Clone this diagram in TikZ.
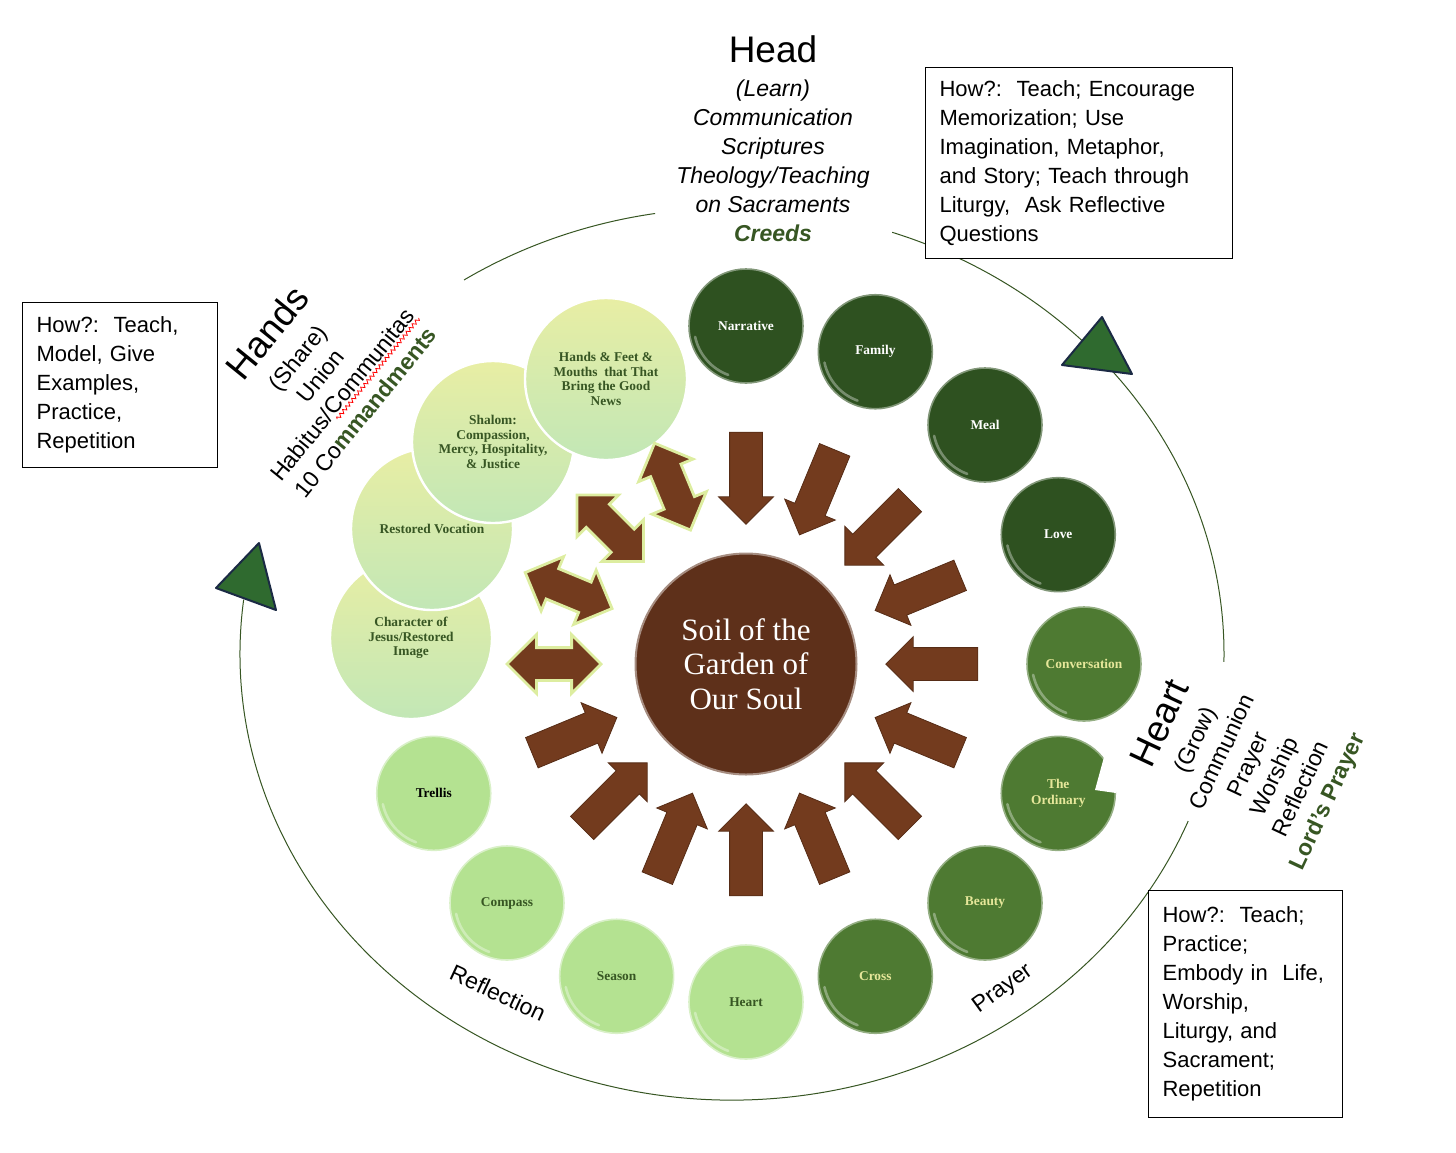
\documentclass[tikz,border=0pt]{standalone}
\usepackage{fontspec}
\setmainfont{Liberation Sans}
\newfontfamily\seedfont{Liberation Serif}
\usetikzlibrary{shapes.arrows,calc,decorations.pathmorphing}
\definecolor{darkleaf}{HTML}{2E5120}
\definecolor{midleaf}{HTML}{4E7A32}
\definecolor{paleleaf}{HTML}{B4E291}
\definecolor{leaftext}{HTML}{375623}
\definecolor{soilbrown}{HTML}{5E301A}
\definecolor{clay}{HTML}{733B1E}
\definecolor{glow}{HTML}{DDEDA0}
\definecolor{bloomtop}{HTML}{E8EEA4}
\definecolor{bloombot}{HTML}{C2E7B6}
\definecolor{waygreen}{HTML}{2F6A2F}
\definecolor{wayedge}{HTML}{1B2A44}
\definecolor{paleword}{HTML}{E6E79A}
\newcommand\spellwave[1]{\tikz[baseline=(w.base)]{\node[inner sep=0pt] (w) {#1};\draw[red,line width=.4pt,decorate,decoration={zigzag,amplitude=.9pt,segment length=2.4pt}] ([yshift=-1.6pt]w.base west) -- ([yshift=-1.6pt]w.base east);}}
\tikzstyle{seed}=[circle,minimum size=57pt,inner sep=0pt,align=center,line width=.8pt,font=\seedfont\bfseries\fontsize{6.7}{7.6}\selectfont]
\tikzstyle{gloss}=[path picture={\draw[white,opacity=.35,line width=1.3pt,line cap=round] (path picture bounding box.center) ++(192:26pt) arc[start angle=192,end angle=250,radius=26pt];}]
\tikzstyle{darkseed}=[seed,gloss,fill=darkleaf,draw=darkleaf!60!white,text=white]
\tikzstyle{midseed}=[seed,gloss,fill=midleaf,draw=midleaf!60!white,text=paleword]
\tikzstyle{paleseed}=[seed,gloss,fill=paleleaf,draw=paleleaf!50!white,text=leaftext]
\tikzstyle{bloom}=[seed,minimum size=81pt,top color=bloomtop,bottom color=bloombot,draw=white,line width=1.2pt,text=leaftext,font=\seedfont\bfseries\fontsize{6.7}{7.3}\selectfont]
\tikzstyle{inarrow}=[single arrow,fill=clay,draw=clay!75!black,line width=.4pt,minimum height=46pt,inner sep=0pt,inner ysep=8pt,single arrow head extend=5.5pt]
\tikzstyle{twoway}=[double arrow,fill=clay,draw=glow,line width=1.4pt,minimum height=47pt,inner sep=0pt,inner ysep=7.5pt,double arrow head extend=6.5pt]
\tikzstyle{howbox}=[draw,fill=white,line width=.6pt,anchor=north west,align=left,inner xsep=7pt,font=\fontsize{11}{14.5}\selectfont]
\tikzstyle{ringline}=[draw=leaftext,line width=.5pt]
\tikzstyle{waymark}=[fill=waygreen,draw=wayedge,line width=1pt,line join=round]
\tikzstyle{facet}=[align=center,inner sep=0pt,font=\fontsize{11.5}{14.5}\selectfont]

\begin{document}
\begin{tikzpicture}[x=0.5pt,y=-0.5pt]
\useasboundingbox (0,0) rectangle (1456,1152);
\draw[ringline] (732,654) ++(22:492 and 446) arc[start angle=22,end angle=187,x radius=492,y radius=446];
\draw[ringline] (732,654) ++(-71:492 and 446) arc[start angle=-71,end angle=1,x radius=492,y radius=446];
\draw[ringline] (732,654) ++(237:492 and 446) arc[start angle=237,end angle=261,x radius=492,y radius=446];
\draw[waymark] (216,588) -- (259,543) -- (276,610) -- cycle;
\draw[waymark] (1062,365) -- (1102,317) -- (1132,374) -- cycle;
\node[howbox,minimum width=153.5pt,minimum height=95.5pt,text width=139.5pt] (headhow) at (925,67) {How?:\ \ Teach; Encourage\\Memorization; Use\\Imagination, Metaphor,\\and Story; Teach through\\Liturgy,\ \ Ask Reflective\\Questions};
\node[howbox,minimum width=97.5pt,minimum height=82.5pt,text width=83.5pt] (handshow) at (22,302) {How?:\ \ Teach,\\Model, Give\\Examples,\\Practice,\\Repetition};
\node[howbox,minimum width=97pt,minimum height=113.5pt,text width=83pt] (hearthow) at (1148,890) {How?:\ \ Teach;\\Practice;\\Embody in\ \ Life,\\Worship,\\Liturgy, and\\Sacrament;\\Repetition};
\node[facet,font=\fontsize{11.5}{14.5}\selectfont\itshape] (head) at (773,139) {{\upshape\fontsize{18.5}{20}\selectfont Head}\\[2.5pt](Learn)\\Communication\\Scriptures\\Theology/Teaching\\on Sacraments\\{\bfseries\color{leaftext}Creeds}};
\node[facet,rotate=51] (hands) at (314,371) {{\fontsize{18.5}{20}\selectfont Hands}\\[2.75pt](Share)\\Union\\Habitus/\spellwave{Communitas}\\10 Co{\bfseries\color{leaftext}mmandments}};
\node[facet,rotate=65] (heartside) at (1243,762) {{\fontsize{18.5}{20}\selectfont Heart}\\[2.75pt](Grow)\\Communion\\Prayer\\Worship\\Reflection\\{\bfseries\color{leaftext}Lord’s Prayer}};
\node[facet,rotate=-25] (reflect) at (498,993) {Reflection};
\node[facet,rotate=36] (pray) at (1003,989) {Prayer};
\coordinate (hub) at (746,664);
\node[darkseed] (narrative) at ($(hub)+(-90:338)$) {Narrative};
\node[darkseed] (family) at ($(hub)+(-67.5:338)$) {Family};
\node[darkseed] (meal) at ($(hub)+(-45:338)$) {Meal};
\node[darkseed] (love) at ($(hub)+(-22.5:338)$) {Love};
\node[midseed] (conversation) at ($(hub)+(0:338)$) {Conversation};
\node[midseed] (ordinary) at ($(hub)+(22.5:338)$) {The\\Ordinary};
\fill[white] (1095,790) -- (1104,757) -- (1112,758) -- (1119,775) -- (1116,793) -- cycle;
\node[midseed] (beauty) at ($(hub)+(45:338)$) {Beauty};
\node[midseed] (cross) at ($(hub)+(67.5:338)$) {Cross};
\node[paleseed] (heart) at ($(hub)+(90:338)$) {Heart};
\node[paleseed] (season) at ($(hub)+(112.5:338)$) {Season};
\node[paleseed] (compass) at ($(hub)+(135:338)$) {Compass};
\node[paleseed,text=black] (trellis) at ($(hub)+(157.5:338)$) {Trellis};
\node[bloom] (character) at (411,638) {Character of\\Jesus/Restored\\Image};
\node[bloom] (vocation) at (432,529) {Restored Vocation};
\node[bloom] (shalom) at (493,442) {Shalom:\\Compassion,\\Mercy, Hospitality,\\\& Justice};
\node[bloom] (goodnews) at (606,379) {Hands \& Feet \&\\Mouths\ \ that That\\Bring the Good\\News};
\node[inarrow,rotate=270] (in1) at ($(hub)+(-90:194)$) {};
\node[inarrow,rotate=247.5] (in2) at ($(hub)+(-67.5:194)$) {};
\node[inarrow,rotate=225] (in3) at ($(hub)+(-45:194)$) {};
\node[inarrow,rotate=202.5] (in4) at ($(hub)+(-22.5:194)$) {};
\node[inarrow,rotate=180] (in5) at ($(hub)+(0:194)$) {};
\node[inarrow,rotate=157.5] (in6) at ($(hub)+(22.5:194)$) {};
\node[inarrow,rotate=135] (in7) at ($(hub)+(45:194)$) {};
\node[inarrow,rotate=112.5] (in8) at ($(hub)+(67.5:194)$) {};
\node[inarrow,rotate=90] (in9) at ($(hub)+(90:194)$) {};
\node[inarrow,rotate=67.5] (in10) at ($(hub)+(112.5:194)$) {};
\node[inarrow,rotate=45] (in11) at ($(hub)+(135:194)$) {};
\node[inarrow,rotate=22.5] (in12) at ($(hub)+(157.5:194)$) {};
\node[twoway,rotate=0] (both1) at ($(hub)+(180:192)$) {};
\node[twoway,rotate=-22.5] (both2) at ($(hub)+(202.5:192)$) {};
\node[twoway,rotate=-45] (both3) at ($(hub)+(225:192)$) {};
\node[twoway,rotate=-67.5] (both4) at ($(hub)+(247.5:192)$) {};
\node[circle,fill=soilbrown,draw=soilbrown!55!white,line width=1pt,minimum size=110.5pt,inner sep=0pt,align=center,text=white,font=\seedfont\fontsize{15.5}{17.25}\selectfont] (soil) at (hub) {Soil of the\\Garden of\\Our Soul};
\end{tikzpicture}
\end{document}
